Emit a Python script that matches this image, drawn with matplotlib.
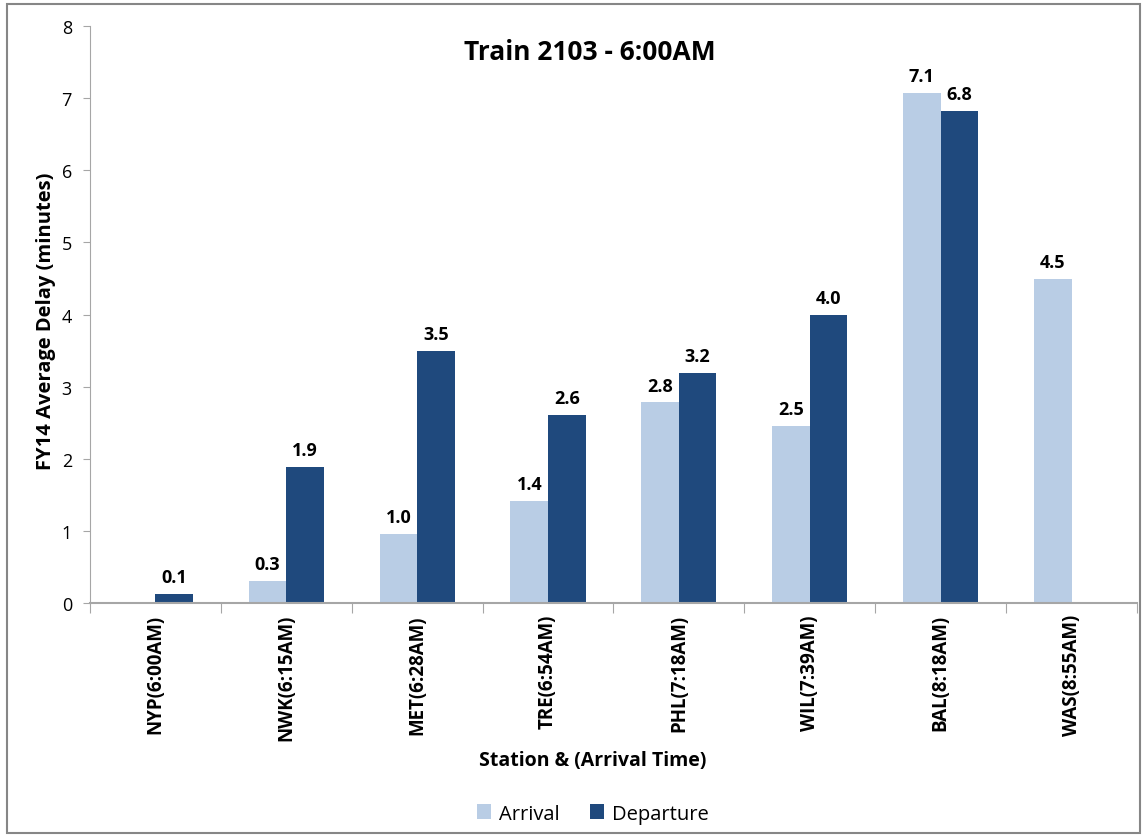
import numpy as np
import matplotlib.pyplot as plt
from matplotlib.patches import Rectangle

plt.rcParams['font.family'] = ['Open Sans', 'DejaVu Sans']

stations = ['NYP(6:00AM)', 'NWK(6:15AM)', 'MET(6:28AM)', 'TRE(6:54AM)',
            'PHL(7:18AM)', 'WIL(7:39AM)', 'BAL(8:18AM)', 'WAS(8:55AM)']
arrival = [np.nan, 0.31, 0.96, 1.42, 2.78, 2.46, 7.07, 4.49]
departure = [0.12, 1.89, 3.49, 2.61, 3.19, 3.99, 6.82, np.nan]

light = '#B9CDE5'
dark = '#1F497D'
grey = '#A6A6A6'

fig = plt.figure(figsize=(11.45, 8.37), dpi=100)
ax = fig.add_axes([0.0786, 0.2784, 0.9144, 0.6893])

# outer frame like the Excel chart area
fig.patches.append(Rectangle((0.006, 0.003), 0.99, 0.991, transform=fig.transFigure,
                             fill=False, edgecolor='#868686', linewidth=1.5))

x = np.arange(len(stations))
w = 0.287
b1 = ax.bar(x - w / 2, arrival, w, color=light, label='Arrival')
b2 = ax.bar(x + w / 2, departure, w, color=dark, label='Departure')

for bars, vals in [(b1, arrival), (b2, departure)]:
    for rect, v in zip(bars, vals):
        if np.isnan(v):
            continue
        ax.text(rect.get_x() + rect.get_width() / 2, v + 0.11, f'{v:.1f}',
                ha='center', va='bottom', fontsize=13, fontweight='bold')

ax.set_xlim(-0.5, len(stations) - 0.5)
ax.set_ylim(0, 8)
ax.set_yticks(range(0, 9))
ax.tick_params(axis='y', labelsize=13, length=5, color=grey, pad=8)

ax.set_xticks(np.arange(len(stations) + 1) - 0.5)
ax.set_xticklabels([])
ax.set_xticks(x, minor=True)
ax.set_xticklabels(stations, minor=True, rotation=90, fontsize=13.5,
                   fontweight='bold')
ax.tick_params(axis='x', which='major', length=7, color=grey)
ax.tick_params(axis='x', which='minor', length=0, pad=8)

for s in ['top', 'right']:
    ax.spines[s].set_visible(False)
ax.spines['left'].set_color(grey)
ax.spines['bottom'].set_color(grey)
ax.spines['bottom'].set_linewidth(1.5)

ax.set_title('Train 2103 - 6:00AM', fontsize=19, fontweight='bold', pad=-24,
             x=0.4776, y=1.0)
ax.set_ylabel('FY14 Average Delay (minutes)', fontsize=14.5, fontweight='bold')
ax.yaxis.set_label_coords(-0.032, 0.49)
ax.set_xlabel('Station & (Arrival Time)', fontsize=14, fontweight='bold')
ax.xaxis.set_label_coords(0.48, -0.255)

ax.legend(loc='center', bbox_to_anchor=(0.48, -0.365), ncol=2, frameon=False,
          fontsize=14.5, handlelength=0.7, handleheight=0.7, handletextpad=0.4,
          columnspacing=1.5)

fig.savefig('out.png', dpi=100)
